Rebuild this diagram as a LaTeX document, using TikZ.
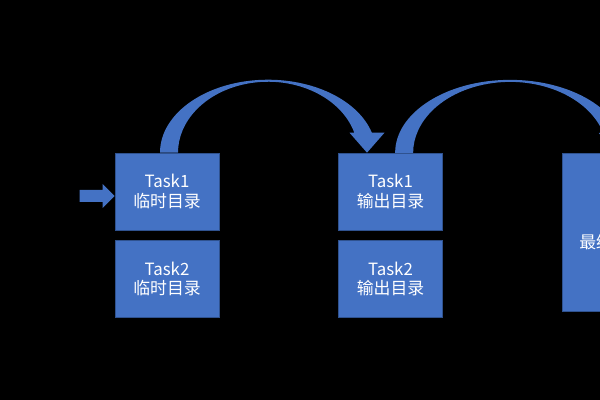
\documentclass[tikz,border=0pt]{standalone}
\usepackage{fontspec}
\setmainfont{Noto Sans CJK SC}
\usepackage{tikz}
\usetikzlibrary{calc}
\definecolor{pptBlue}{HTML}{4472C4}
\definecolor{pptBlueDark}{HTML}{2F528F}
\newcommand{\pxu}{0.025cm}
% band arrow: base centre, tip, half span (px)
\newcommand{\bendarrow}[3]{%
  \fill[bend fill] ($(#1)!0.5!(#2)+(-#3-9,0)$)
    arc[start angle=180, end angle=15.9, x radius={(#3+9)*\pxu}, y radius={73*\pxu}]
    -- ($(#2)+(17.5,20)$) -- (#2) -- ($(#2)+(-17.5,20)$)
    -- ($(#1)!0.5!(#2)+({(#3-9)*cos(16.4)},20)$)
    arc[start angle=16.4, end angle=180, x radius={(#3-9)*\pxu}, y radius={71*\pxu}]
    -- cycle;}
\tikzset{
  box text/.style={text=white, inner sep=0pt,
    font=\fontsize{12}{14}\selectfont},
  task box/.style={box text, draw=pptBlueDark, fill=pptBlue, align=center,
    minimum width=2.6cm, minimum height=1.925cm},
  bend fill/.style={fill=pptBlue}
}
\begin{document}
\begin{tikzpicture}[x=0.025cm, y=0.025cm]
  \useasboundingbox (0,0) rectangle (600,400);
  \clip (0,0) rectangle (600,400);
  \fill[black] (0,0) rectangle (600,400);

  \node[task box] (t1tmp) at (167,208.5) {Task1\\临时目录};
  \node[task box] (t2tmp) at (167,121) {Task2\\临时目录};
  \node[task box] (t1out) at (390.5,208.5) {Task1\\输出目录};
  \node[task box] (t2out) at (390.5,121) {Task2\\输出目录};
  \node[task box, minimum height=3.95cm, anchor=north west] (final) at (562,247) {};
  \node[box text, anchor=west] (finaltxt) at (579,158) {最终};

  % input arrow
  \coordinate (intip) at ($(t1tmp.west)+(0,-4.5)$);
  \fill[bend fill] ($(intip)+(-35,6)$) -- ++(23,0) -- ++(0,6) -- (intip)
    -- ++(-12,-12) -- ++(0,6) -- ++(-23,0) -- cycle;

  \coordinate (b1) at ($(t1tmp.north)+(2,0)$);
  \coordinate (e1) at ($(t1out.north)+(-23.5,0)$);
  \coordinate (b2) at ($(t1out.north)+(13.5,0)$);
  \coordinate (e2) at ($(final.north)+(2,0)$);
  \bendarrow{b1}{e1}{99}
  \bendarrow{b2}{e2}{106}
\end{tikzpicture}
\end{document}
